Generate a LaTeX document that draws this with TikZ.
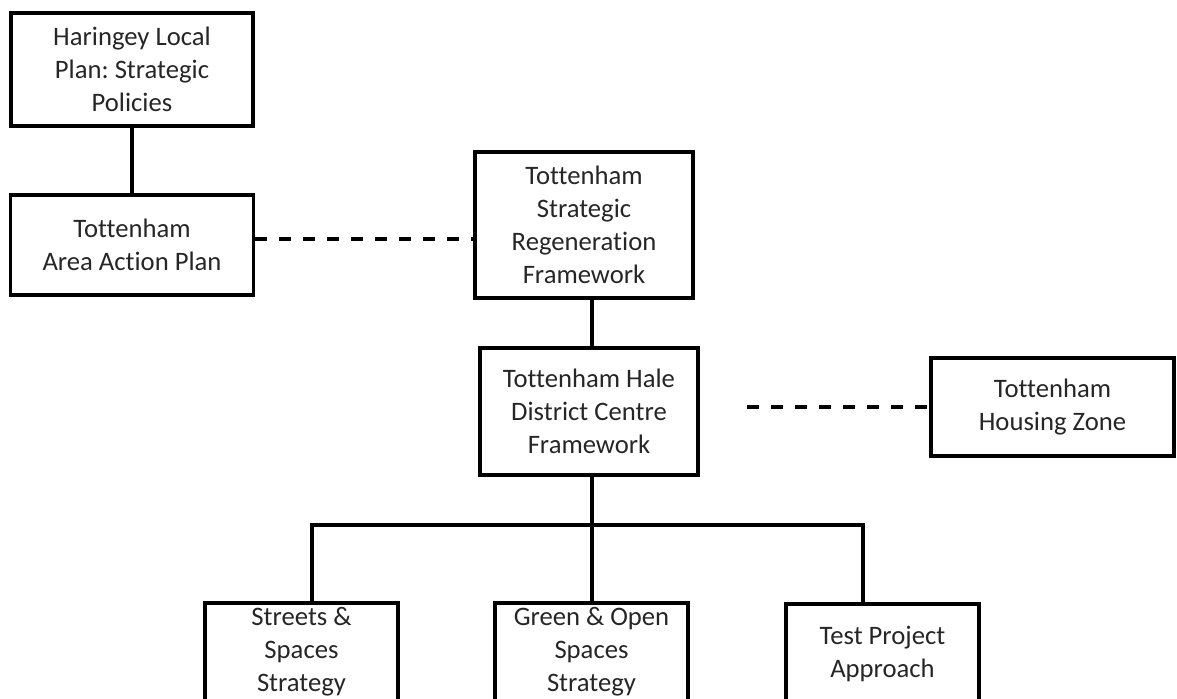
\documentclass[tikz,border=0pt]{standalone}
\usepackage{fontspec}
\setmainfont{Carlito}[Ligatures=NoCommon]
\usetikzlibrary{positioning}
\frenchspacing

\begin{document}
\begin{tikzpicture}[x=0.75pt,y=-0.75pt,
  box/.style={draw,line width=2.4pt,align=center,inner sep=0pt,text=black!85,
    font=\fontsize{20}{24.75}\selectfont},
  boxsize/.style 2 args={minimum width=#1*0.75pt,minimum height=#2*0.75pt},
  link/.style={line width=2.4pt},
  dashlink/.style={line width=2.4pt,dash pattern=on 9pt off 9pt}]
\useasboundingbox (0,0) rectangle (1177,699);
\clip (0,0) rectangle (1177,699);
% plans and frameworks
\node[box,boxsize={242}{113}] (hlp) at (132,69.5) {Haringey Local\\Plan: Strategic\\Policies};
\node[box,boxsize={243}{100}] (taap) at (132,245) {Tottenham\\Area Action Plan};
\node[box,boxsize={218}{146}] (tsrf) at (584,225) {Tottenham\\Strategic\\Regeneration\\Framework};
\node[box,boxsize={218}{127}] (thdc) at (589,411.5) {Tottenham Hale\\District Centre\\Framework};
\node[box,boxsize={243}{98}] (thz) at (1052.5,407) {Tottenham\\Housing Zone};
% strategies (cut off at the bottom)
\node[box,boxsize={193}{98}] (ssp) at (301.5,652) {Streets \&\\Spaces\\Strategy};
\node[box,boxsize={193}{98}] (gos) at (591.5,652) {Green \& Open\\Spaces\\Strategy};
\node[box,boxsize={193}{99}] (tpa) at (882.5,653.5) {Test Project\\Approach};
% connectors
\coordinate (fork) at (592,525);
\coordinate (lft) at (312,525);
\coordinate (rgt) at (863,525);
\coordinate (hzend) at (747,407);
\draw[link] (hlp) -- (taap);
\draw[link] (tsrf.south -| fork) -- (thdc.north -| fork);
\draw[link] (thdc.south -| fork) -- (fork) -- (gos.north -| fork);
\draw[link] (ssp.north -| lft) -- (lft) -- (rgt) -- (tpa.north -| rgt);
\draw[dashlink] (taap.east |- 0,239) -- (tsrf.west |- 0,239);
\draw[dashlink] (hzend) -- (thz.west);
\end{tikzpicture}
\end{document}
